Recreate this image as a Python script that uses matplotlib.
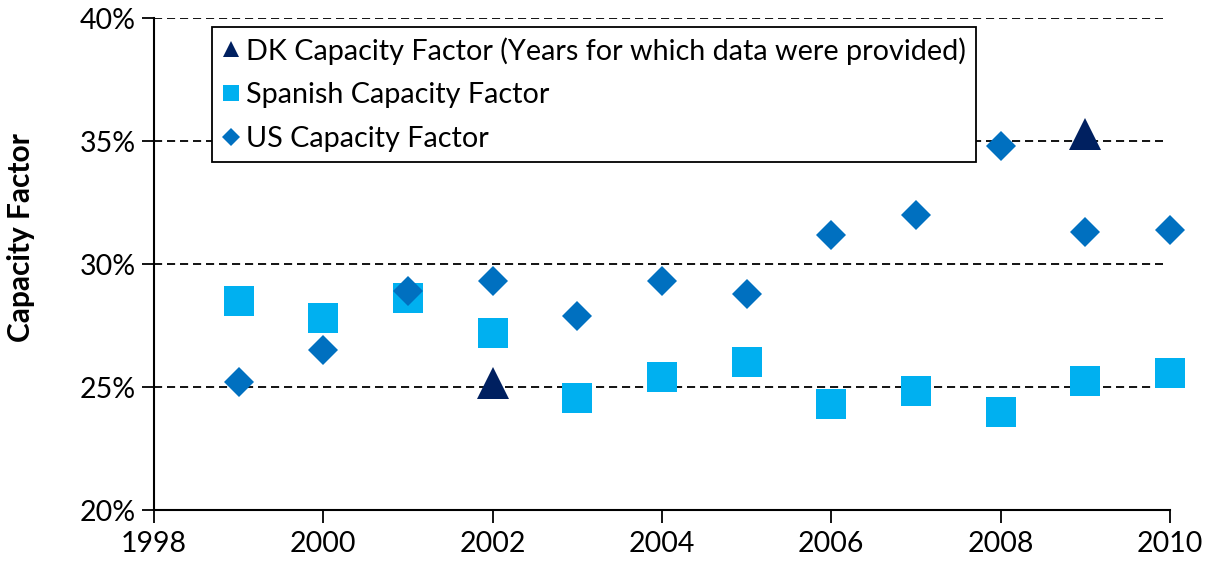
import matplotlib
matplotlib.use("Agg")
import matplotlib.pyplot as plt
from matplotlib.lines import Line2D
from matplotlib.ticker import PercentFormatter

years = [1999, 2000, 2001, 2002, 2003, 2004, 2005, 2006, 2007, 2008, 2009, 2010]
us_cf = [25.2, 26.5, 28.9, 29.3, 27.9, 29.3, 28.8, 31.2, 32.0, 34.8, 31.3, 31.4]
spain_cf = [28.5, 27.8, 28.6, 27.2, 24.55, 25.4, 26.0, 24.3, 24.85, 24.0, 25.25, 25.55]
dk_years = [2002, 2009]
dk_cf = [25.15, 35.3]

y_ticks = [20, 25, 30, 35, 40]
x_ticks = [1998, 2000, 2002, 2004, 2006, 2008, 2010]

dk_color = "#002060"
spain_color = "#00B0F0"
us_color = "#0070C0"

plt.rcParams["font.family"] = ["Lato", "DejaVu Sans"]

fig = plt.figure(figsize=(12.09, 5.65), dpi=100)
ax = fig.add_axes([0.1274, 0.0973, 0.8403, 0.8708])

ax.plot(years, spain_cf, linestyle="none", marker="s", markersize=22,
        color=spain_color, markeredgewidth=0, clip_on=False, zorder=3)
ax.plot(years, us_cf, linestyle="none", marker="D", markersize=15.5,
        color=us_color, markeredgewidth=0, clip_on=False, zorder=4)
ax.plot(dk_years, dk_cf, linestyle="none", marker="^", markersize=23,
        color=dk_color, markeredgewidth=0, clip_on=False, zorder=5)

ax.set_xlim(1998, 2010)
ax.set_ylim(20, 40)
ax.set_xticks(x_ticks)
ax.set_yticks(y_ticks)
ax.yaxis.set_major_formatter(PercentFormatter(decimals=0))
ax.tick_params(axis="both", labelsize=20.5, direction="out", length=9, width=1.3, colors="black")
ax.tick_params(axis="x", pad=6)
ax.tick_params(axis="y", pad=4)

# dashed gridlines stop a little short of the right end
for y in y_ticks[1:]:
    ax.axhline(y, xmax=0.993, color="black", linestyle=(0, (4.5, 2.7)), linewidth=1.3, zorder=1)

for side in ["top", "right"]:
    ax.spines[side].set_visible(False)
for side in ["left", "bottom"]:
    ax.spines[side].set_linewidth(1.5)

ax.set_ylabel("Capacity Factor", fontsize=21.5, fontweight="bold")
ax.yaxis.set_label_coords(-0.117, 0.553)

handles = [
    Line2D([], [], linestyle="none", marker="^", markersize=12, color=dk_color, markeredgewidth=0),
    Line2D([], [], linestyle="none", marker="s", markersize=12, color=spain_color, markeredgewidth=0),
    Line2D([], [], linestyle="none", marker="D", markersize=9, color=us_color, markeredgewidth=0),
]
labels = [
    "DK Capacity Factor (Years for which data were provided)",
    "Spanish Capacity Factor",
    "US Capacity Factor",
]
leg = ax.legend(handles, labels, loc="upper left", bbox_to_anchor=(0.057, 0.982),
                borderaxespad=0, fancybox=False, framealpha=1, edgecolor="black",
                fontsize=20.7, handlelength=0.6, handletextpad=0.25, labelspacing=0.62,
                borderpad=0.35)
leg.get_frame().set_linewidth(1.3)
leg.set_zorder(6)

fig.savefig("out.png", dpi=100)
